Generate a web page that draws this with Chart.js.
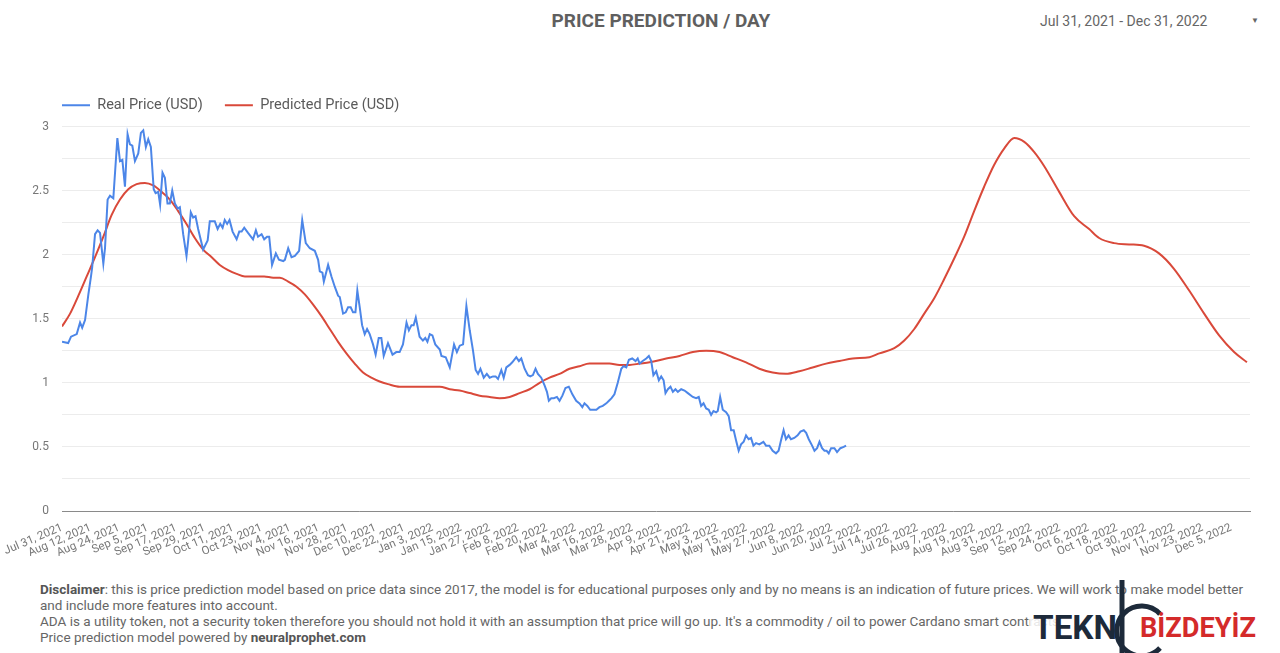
<!DOCTYPE html>
<html>
<head>
<meta charset="utf-8">
<title>Price Prediction / Day</title>
<script src="https://cdn.jsdelivr.net/npm/chart.js@4.4.1/dist/chart.umd.min.js"></script>
<style>
    body { margin: 0; background: #fff; width: 1280px; height: 653px; overflow: hidden; position: relative; font-family: Roboto, "Noto Sans", sans-serif; }
    #titel { position: absolute; left: 461px; top: 9px; width: 400px; text-align: center; font-size: 19px; font-weight: bold; color: #5f5f5f; }
    #zeitraum { position: absolute; left: 1040px; top: 13px; font-size: 14px; color: #666; }
    #pfeil { position: absolute; left: 1251px; top: 16px; font-size: 8px; color: #666; }
    #chartBox { position: absolute; left: 0; top: 0; width: 1280px; height: 556px; }
    #hinweis { position: absolute; left: 40px; top: 581px; font-size: 13.5px; line-height: 16px; color: #666; white-space: nowrap; }
    #hinweis b { color: #555; }
    #logo { position: absolute; left: 1030px; top: 578px; width: 240px; height: 75px; }
</style>
</head>
<body>
<div id="titel">PRICE PREDICTION / DAY</div>
<div id="zeitraum">Jul 31, 2021 - Dec 31, 2022</div>
<div id="pfeil">▼</div>
<div id="chartBox"><canvas id="priceChart"></canvas></div>
<div id="hinweis">
    <b>Disclaimer</b>: this is price prediction model based on price data since 2017, the model is for educational purposes only and by no means is an indication of future prices. We will work to make model better<br>
    and include more features into account.<br>
    ADA is a utility token, not a security token therefore you should not hold it with an assumption that price will go up. It's a commodity / oil to power Cardano smart contracts.<br>
    Price prediction model powered by <b>neuralprophet.com</b>
</div>
<svg id="logo" viewBox="0 0 240 75">
    <rect x="0" y="22" width="236" height="42" fill="#fff" opacity="0.85"></rect>
    <text x="3" y="61" font-family="Roboto" font-weight="bold" font-size="34" fill="#1d2a3a" textLength="84" lengthAdjust="spacingAndGlyphs">TEKN</text>
    <path d="M 130 36 A 25 25 0 1 0 130 70" fill="none" stroke="#1d2a3a" stroke-width="5"></path>
    <path d="M 92 2 L 92 75" fill="none" stroke="#1d2a3a" stroke-width="5"></path>
    <text x="110" y="59" font-family="Roboto" font-weight="bold" font-size="28" fill="#d42a2a" textLength="116" lengthAdjust="spacingAndGlyphs">BİZDEYİZ</text>
</svg>

<script>
// --- Daten (Tage ab 31. Juli 2021) ---
const tickDays = [0, 12, 24, 36, 48, 60, 72, 84, 96, 108, 120, 132, 144, 156, 168, 180, 192, 204, 216, 228, 240,
    252, 264, 276, 288, 300, 312, 324, 336, 348, 360, 372, 384, 396, 408, 420, 432, 444, 456, 468, 480, 492];
const tickLabels = ["Jul 31, 2021", "Aug 12, 2021", "Aug 24, 2021", "Sep 5, 2021", "Sep 17, 2021", "Sep 29, 2021",
    "Oct 11, 2021", "Oct 23, 2021", "Nov 4, 2021", "Nov 16, 2021", "Nov 28, 2021", "Dec 10, 2021", "Dec 22, 2021",
    "Jan 3, 2022", "Jan 15, 2022", "Jan 27, 2022", "Feb 8, 2022", "Feb 20, 2022", "Mar 4, 2022", "Mar 16, 2022",
    "Mar 28, 2022", "Apr 9, 2022", "Apr 21, 2022", "May 3, 2022", "May 15, 2022", "May 27, 2022", "Jun 8, 2022",
    "Jun 20, 2022", "Jul 2, 2022", "Jul 14, 2022", "Jul 26, 2022", "Aug 7, 2022", "Aug 19, 2022", "Aug 31, 2022",
    "Sep 12, 2022", "Sep 24, 2022", "Oct 6, 2022", "Oct 18, 2022", "Oct 30, 2022", "Nov 11, 2022", "Nov 23, 2022",
    "Dec 5, 2022"];

const realDay = [0, 2.6, 3.8, 6.2, 7.6, 8.5, 9.7, 11.1, 12.2, 12.7, 13.9, 15.0, 16.0, 17.4, 18.1, 19.2, 20.2, 21.6,
    23.3, 24.4, 25.4, 26.5, 27.6, 28.6, 29.6, 30.7, 32.1, 33.2, 34.2, 35.3, 36.3, 37.4, 38.6, 39.4, 40.5, 41.3, 42.3,
    43.3, 44.4, 45.4, 46.4, 47.5, 48.7, 49.6, 51.0, 52.4, 53.1, 54.2, 55.2, 56.2, 57.3, 59.4, 61.3, 62.2, 64.3, 65.5,
    66.6, 67.6, 68.5, 69.5, 70.5, 71.8, 73.5, 74.6, 75.6, 76.7, 78.3, 80.4, 81.6, 82.5, 84.0, 85.1, 86.3, 87.2, 88.4,
    90.0, 91.3, 93.1, 93.8, 95.2, 96.6, 98.0, 99.8, 101.1, 102.6, 104.3, 106.4, 107.8, 108.5, 109.6, 110.2, 112.0,
    113.4, 114.8, 116.2, 116.9, 118.3, 119.4, 120.4, 121.5, 122.5, 123.5, 124.3, 125.3, 126.3, 127.4, 128.4, 129.5,
    130.9, 132.0, 133.3, 134.4, 135.4, 137.2, 139.1, 140.7, 142.1, 143.5, 145.0, 146.0, 147.1, 148.0, 148.9, 150.5,
    151.9, 152.9, 153.8, 154.8, 155.9, 157.1, 159.0, 159.7, 161.5, 163.2, 165.0, 166.2, 167.4, 168.8, 170.2, 171.6,
    173.0, 174.1, 175.1, 176.1, 177.5, 178.8, 180.0, 181.4, 182.5, 183.5, 184.9, 185.9, 187.0, 188.4, 189.5, 191.2,
    192.3, 193.3, 194.7, 196.1, 197.1, 198.2, 199.3, 200.3, 201.7, 203.1, 204.1, 204.9, 205.9, 207.0, 208.3, 209.4,
    210.6, 211.9, 213.3, 214.8, 216.4, 217.8, 219.0, 219.9, 221.1, 222.3, 223.4, 224.9, 226.2, 227.6, 229.1, 230.2,
    231.3, 232.5, 233.9, 235.4, 236.3, 237.5, 238.6, 240.0, 241.4, 242.3, 243.1, 244.4, 245.9, 247.0, 248.0, 248.9,
    250.1, 251.2, 252.2, 253.2, 254.0, 255.0, 256.1, 257.1, 258.2, 259.2, 260.6, 262.0, 263.4, 265.5, 266.9, 268.0,
    269.0, 270.0, 271.1, 272.2, 273.2, 274.2, 275.3, 276.0, 277.0, 278.1, 279.5, 280.6, 281.6, 282.7, 283.7, 284.8,
    285.8, 286.9, 287.9, 289.0, 290.0, 291.0, 292.1, 293.5, 295.2, 296.3, 297.7, 299.1, 300.5, 301.6, 302.6, 303.7,
    304.7, 305.8, 306.8, 308.2, 309.6, 310.8, 312.2, 313.2, 314.3, 315.7, 316.7, 317.8, 318.8, 319.9, 320.9, 321.8,
    322.7, 323.7, 325.1, 326.2, 327.6, 329.0, 330.0];
const realPrice = [1.32, 1.31, 1.36, 1.38, 1.47, 1.43, 1.49, 1.69, 1.83, 1.90, 2.16, 2.19, 2.17, 1.93, 2.05, 2.43, 2.46, 2.44,
    2.91, 2.73, 2.74, 2.53, 2.94, 2.86, 2.85, 2.73, 2.79, 2.95, 2.97, 2.84, 2.90, 2.84, 2.51, 2.48, 2.49, 2.39, 2.64,
    2.60, 2.40, 2.40, 2.50, 2.40, 2.36, 2.37, 2.16, 1.99, 2.11, 2.33, 2.29, 2.30, 2.20, 2.04, 2.11, 2.26, 2.26, 2.20,
    2.24, 2.21, 2.27, 2.24, 2.27, 2.18, 2.12, 2.18, 2.18, 2.21, 2.17, 2.12, 2.19, 2.14, 2.16, 2.12, 2.14, 2.14, 1.92,
    2.01, 1.96, 1.95, 1.96, 2.05, 1.98, 1.99, 2.03, 2.27, 2.09, 2.05, 2.03, 1.96, 1.87, 1.86, 1.79, 1.92,
    1.83, 1.75, 1.68, 1.67, 1.54, 1.55, 1.59, 1.59, 1.55, 1.55, 1.72, 1.59, 1.45, 1.38, 1.42, 1.38,
    1.30, 1.22, 1.35, 1.35, 1.21, 1.31, 1.22, 1.24, 1.24, 1.30, 1.47, 1.41, 1.45, 1.45, 1.51, 1.36,
    1.33, 1.35, 1.32, 1.38, 1.37, 1.30, 1.26, 1.21, 1.20, 1.12, 1.30, 1.24, 1.29, 1.30, 1.60, 1.41,
    1.25, 1.10, 1.07, 1.11, 1.04, 1.07, 1.04, 1.05, 1.05, 1.03, 1.10, 1.04, 1.12, 1.14, 1.16, 1.20,
    1.17, 1.19, 1.11, 1.06, 1.05, 1.06, 1.11, 1.07, 1.04, 0.98, 0.93, 0.86, 0.88, 0.88, 0.89, 0.86,
    0.90, 0.96, 0.97, 0.91, 0.86, 0.84, 0.81, 0.84, 0.82, 0.79, 0.79, 0.79, 0.81, 0.82, 0.84, 0.86,
    0.88, 0.91, 1.00, 1.11, 1.13, 1.12, 1.18, 1.19, 1.17, 1.19, 1.15, 1.17, 1.19, 1.21, 1.17, 1.06,
    1.09, 1.02, 1.05, 1.02, 0.92, 0.95, 0.97, 0.93, 0.95, 0.93, 0.95, 0.94, 0.92, 0.89, 0.88, 0.89,
    0.82, 0.84, 0.80, 0.79, 0.75, 0.78, 0.77, 0.78, 0.89, 0.79, 0.77, 0.74, 0.63, 0.63, 0.55, 0.47,
    0.52, 0.54, 0.59, 0.56, 0.57, 0.51, 0.53, 0.52, 0.54, 0.51, 0.51, 0.47, 0.45, 0.47, 0.55, 0.63,
    0.56, 0.59, 0.56, 0.57, 0.59, 0.62, 0.63, 0.61, 0.56, 0.51, 0.47, 0.49, 0.54, 0.49, 0.47, 0.47,
    0.45, 0.49, 0.49, 0.46, 0.49, 0.50, 0.51];

const predDay = [0, 3.4, 6.9, 10.4, 13.9, 17.4, 20.9, 24.4, 27.9, 31.4, 34.9, 38.4, 41.9, 45.4, 48.9, 52.4, 55.9, 59.4,
    63.0, 66.4, 69.9, 73.5, 77.0, 81.2, 85.1, 88.9, 91.7, 95.2, 98.7, 102.2, 105.7, 109.2, 112.7, 116.2, 119.7, 123.2,
    126.7, 130.2, 133.7, 137.2, 142.1, 146.3, 150.5, 154.8, 159.0, 163.2, 167.4, 171.6, 175.8, 180.0, 184.2, 188.4,
    192.6, 196.8, 201.0, 205.2, 209.4, 213.6, 217.8, 222.0, 226.2, 230.4, 234.6, 238.9, 243.1, 247.3, 254.3, 259.9,
    265.5, 271.1, 276.7, 282.3, 287.9, 293.5, 299.1, 304.7, 310.3, 315.9, 321.6, 327.2, 332.8, 339.8, 344.0, 350.3,
    354.5, 358.7, 362.9, 367.1, 371.3, 375.5, 379.7, 383.9, 388.1, 392.3, 396.6, 400.8, 405.0, 409.2, 413.4, 419.7,
    426.0, 432.3, 436.5, 442.8, 449.1, 455.4, 461.7, 468.0, 474.4, 480.7, 487.0, 493.3, 498.7];
const predPrice = [1.44, 1.54, 1.68, 1.83, 1.98, 2.14, 2.31, 2.43, 2.51, 2.55, 2.56, 2.54, 2.49, 2.43, 2.34, 2.24, 2.13, 2.04,
    1.98, 1.92, 1.88, 1.85, 1.83, 1.83, 1.83, 1.82, 1.82, 1.79, 1.75, 1.69, 1.61, 1.52, 1.42, 1.32, 1.23, 1.15,
    1.08, 1.04, 1.01, 0.99, 0.97, 0.97, 0.97, 0.97, 0.97, 0.95, 0.94, 0.92, 0.90, 0.89, 0.88, 0.89,
    0.92, 0.95, 1.00, 1.04, 1.07, 1.11, 1.13, 1.15, 1.15, 1.15, 1.14, 1.14, 1.15, 1.16, 1.19, 1.21,
    1.24, 1.25, 1.24, 1.20, 1.16, 1.11, 1.08, 1.07, 1.09, 1.12, 1.15, 1.17, 1.19, 1.20, 1.23, 1.27,
    1.33, 1.42, 1.54, 1.66, 1.81, 1.97, 2.14, 2.34, 2.53, 2.70, 2.83, 2.91, 2.88, 2.80, 2.69, 2.49,
    2.30, 2.20, 2.13, 2.09, 2.08, 2.07, 2.01, 1.89, 1.72, 1.54, 1.37, 1.24, 1.16];

const yTickStep = 0.25;

// --- Legende etwas verschieben / Abstand zum Diagramm ---
const legendeAnpassen = {
    id: "legendeAnpassen",
    beforeInit(chart) {
        const originalFit = chart.legend.fit;
        chart.legend.fit = function () {
            originalFit.bind(chart.legend)();
            this.height += 4;
        };
    },
    afterLayout(chart) {
        chart.legend.left += 8;
        chart.legend.right += 8;
    }
};

// --- Chart aufbauen ---
Chart.defaults.font.family = "Roboto";
Chart.defaults.color = "#666";

const ctx = document.getElementById("priceChart").getContext("2d");

new Chart(ctx, {
    type: "line",
    data: {
        datasets: [
            {
                label: "Real Price (USD)",
                data: realDay.map((d, i) => ({ x: d, y: realPrice[i] })),
                borderColor: "#4c86e8",
                backgroundColor: "#4c86e8",
                borderWidth: 2,
                pointRadius: 0,
                tension: 0
            },
            {
                label: "Predicted Price (USD)",
                data: predDay.map((d, i) => ({ x: d, y: predPrice[i] })),
                borderColor: "#d9493a",
                backgroundColor: "#d9493a",
                borderWidth: 2,
                pointRadius: 0,
                cubicInterpolationMode: "monotone"
            }
        ]
    },
    options: {
        responsive: true,
        maintainAspectRatio: false,
        animation: false,
        layout: { padding: { left: 32, top: 76, right: 30, bottom: 0 } },
        plugins: {
            legend: {
                align: "start",
                labels: {
                    usePointStyle: true,
                    pointStyle: "line",
                    pointStyleWidth: 28,
                    padding: 22,
                    color: "#5a5a5a",
                    font: { size: 14.5 }
                }
            },
            tooltip: { enabled: false }
        },
        scales: {
            x: {
                type: "linear",
                min: 0,
                max: 500,
                grid: { display: false },
                border: { display: true, color: "#8a8a8a", width: 1 },
                afterBuildTicks: scale => {
                    scale.ticks = tickDays.map(v => ({ value: v }));
                },
                afterFit: scale => {
                    scale.height = 45;
                    scale.paddingLeft = 0;
                    scale.paddingRight = 0;
                },
                ticks: {
                    autoSkip: false,
                    minRotation: 23,
                    maxRotation: 23,
                    padding: 2,
                    color: "#777",
                    font: { size: 11.5 },
                    callback: (value, index) => tickLabels[index]
                }
            },
            y: {
                min: 0,
                max: 3,
                grid: { color: "#ececec", drawTicks: false },
                border: { display: false },
                afterFit: scale => { scale.width = 30; },
                ticks: {
                    stepSize: yTickStep,
                    padding: 13,
                    color: "#777",
                    font: { size: 12 },
                    callback: v => Number.isInteger(v * 2) ? v : ""
                }
            }
        }
    },
    plugins: [legendeAnpassen]
});
</script>
</body>
</html>
